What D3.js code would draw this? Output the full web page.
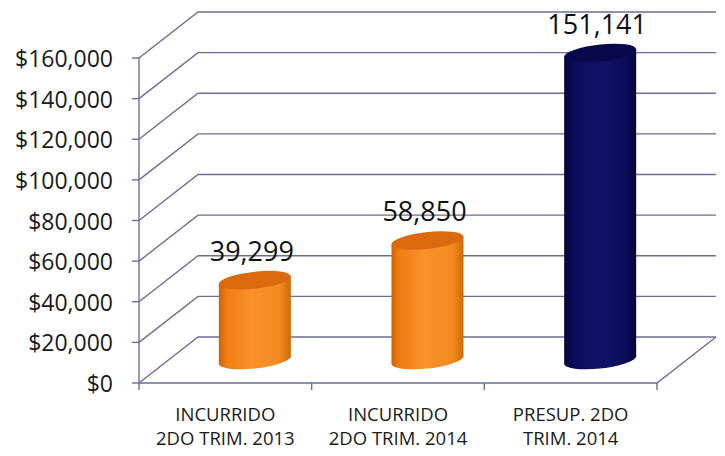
<!DOCTYPE html>
<html><head><meta charset="utf-8">
<script src="https://cdn.jsdelivr.net/npm/d3@7"></script>
<style>body{margin:0;background:#fff}svg{display:block}</style>
</head><body>
<svg id="c" width="725" height="456"></svg>
<script>
const categories = [["INCURRIDO","2DO TRIM. 2013"],["INCURRIDO","2DO TRIM. 2014"],["PRESUP. 2DO","TRIM. 2014"]];
const values = [39299, 58850, 151141];
const barColors = ["orange","orange","navy"];
const valueLabels = ["39,299","58,850","151,141"];
const yTicks = [0,20000,40000,60000,80000,100000,120000,140000,160000];

const svg = d3.select("#c");
const x0 = 139, x1 = 657, dx = 59, dy = -46;
const y = d3.scaleLinear().domain([0,160000]).range([383,58]);
const x = d3.scaleBand().domain(d3.range(categories.length)).range([x0,x1]);
const gridColor = "#6c6f93";
const font = "'Open Sans', 'Noto Sans', sans-serif";

const defs = svg.append("defs");
function grad(id, stops){
  const g = defs.append("linearGradient").attr("id",id).attr("x1","0").attr("x2","1").attr("y1","0").attr("y2","0");
  stops.forEach(s=>g.append("stop").attr("offset",s[0]).attr("stop-color",s[1]));
}
grad("orange",[[0,"#cf6204"],[0.1,"#ef7c12"],[0.45,"#f8922a"],[0.85,"#f18a1e"],[1,"#d06806"]]);
grad("navy",[[0,"#05053a"],[0.15,"#0c0c5c"],[0.5,"#12126a"],[0.85,"#0c0c5a"],[1,"#050538"]]);
const topColor = {orange:"#d96a0e", navy:"#08084a"};

const g = svg.append("g").attr("fill","none").attr("stroke",gridColor).attr("stroke-width",1.4);
yTicks.forEach(t=>{
  g.append("path").attr("d",`M${x0},${y(t)}L${x0+dx},${y(t)+dy}L${x1+dx},${y(t)+dy}`);
});
g.append("path").attr("d",`M${x0},${y(0)}L${x1},${y(0)}L${x1+dx},${y(0)+dy}`);
g.append("line").attr("x1",x0).attr("x2",x0).attr("y1",y(160000)).attr("y2",y(0));
yTicks.forEach(t=>{
  g.append("line").attr("x1",x0-7).attr("x2",x0).attr("y1",y(t)).attr("y2",y(t));
});
d3.range(categories.length+1).forEach(i=>{
  const xx = i<categories.length ? x(i) : x1;
  g.append("line").attr("x1",xx).attr("x2",xx).attr("y1",y(0)).attr("y2",y(0)+7);
});

svg.append("g").selectAll("text").data(yTicks).join("text")
  .attr("x",113).attr("y",d=>y(d)+9).attr("text-anchor","end")
  .attr("font-family",font).attr("font-size",23).attr("fill","#1a1a1a")
  .text(d=>"$"+d3.format(",")(d));

const cl = svg.append("g");
categories.forEach((c,i)=>{
  const cx = x(i)+x.bandwidth()/2;
  c.forEach((line,j)=>{
    cl.append("text").attr("x",cx).attr("y",421+j*24).attr("text-anchor","middle")
      .attr("font-family",font).attr("font-size",18.5).attr("fill","#1a1a1a").text(line);
  });
});

const rx = 36, ry = 8.5, skew = -6;
values.forEach((v,i)=>{
  const cx = x(i)+x.bandwidth()/2 + dx/2;
  const yb = y(0)+dy/2, yt = y(v)+dy/2;
  const c = barColors[i];
  const bg = svg.append("g").attr("transform",`translate(${cx},0) skewY(${skew})`);
  bg.append("ellipse").attr("cx",0).attr("cy",yb).attr("rx",rx).attr("ry",ry).attr("fill",`url(#${c})`);
  bg.append("rect").attr("x",-rx).attr("y",yt).attr("width",rx*2).attr("height",yb-yt).attr("fill",`url(#${c})`);
  bg.append("ellipse").attr("cx",0).attr("cy",yt).attr("rx",rx).attr("ry",ry).attr("fill",topColor[c]);
  svg.append("text").attr("x",cx-3).attr("y",yt-19).attr("text-anchor","middle")
    .attr("font-family",font).attr("font-size",27).attr("fill","#111").text(valueLabels[i]);
});
</script>
</body></html>
